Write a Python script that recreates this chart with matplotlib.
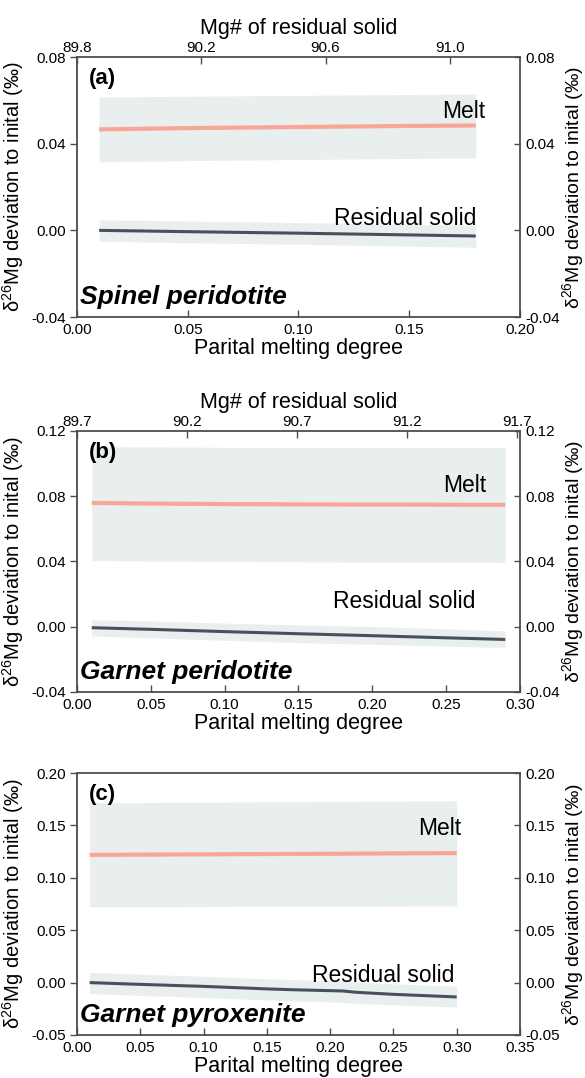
import matplotlib
matplotlib.use("Agg")
import matplotlib.pyplot as plt
import numpy as np

plt.rcParams['font.family'] = ['Liberation Sans', 'DejaVu Sans']
plt.rcParams['mathtext.fontset'] = 'custom'
plt.rcParams['mathtext.rm'] = 'Liberation Sans'
plt.rcParams['axes.unicode_minus'] = False

# (a) spinel peridotite
x_a = [0.01, 0.05, 0.10, 0.15, 0.18]
melt_a = [0.0466, 0.0472, 0.0477, 0.0482, 0.0484]
melt_lo_a = [0.0316, 0.0322, 0.0327, 0.0332, 0.0334]
melt_hi_a = [0.0615, 0.0619, 0.0623, 0.0627, 0.0629]
solid_a = [0.0000, -0.0006, -0.0013, -0.0021, -0.0026]
solid_lo_a = [-0.0050, -0.0057, -0.0064, -0.0073, -0.0078]
solid_hi_a = [0.0049, 0.0043, 0.0036, 0.0028, 0.0023]

# (b) garnet peridotite
x_b = [0.01, 0.05, 0.10, 0.15, 0.20, 0.25, 0.29]
melt_b = [0.0759, 0.0755, 0.0752, 0.0750, 0.0749, 0.0748, 0.0747]
melt_lo_b = [0.0406, 0.0403, 0.0400, 0.0398, 0.0396, 0.0395, 0.0394]
melt_hi_b = [0.1104, 0.1102, 0.1100, 0.1099, 0.1098, 0.1098, 0.1098]
solid_b = [-0.0006, -0.0016, -0.0030, -0.0043, -0.0055, -0.0068, -0.0078]
solid_lo_b = [-0.0057, -0.0068, -0.0083, -0.0097, -0.0108, -0.0119, -0.0127]
solid_hi_b = [0.0043, 0.0035, 0.0022, 0.0011, 0.0001, -0.0013, -0.0025]

# (c) garnet pyroxenite
x_c = [0.01, 0.05, 0.10, 0.15, 0.17, 0.21, 0.22, 0.25, 0.30]
melt_c = [0.1219, 0.1221, 0.1224, 0.1227, 0.1228, 0.1230, 0.1231, 0.1233, 0.1236]
melt_lo_c = [0.0724, 0.0725, 0.0726, 0.0728, 0.0728, 0.0729, 0.0730, 0.0731, 0.0732]
melt_hi_c = [0.1716, 0.1718, 0.1721, 0.1725, 0.1726, 0.1729, 0.1730, 0.1732, 0.1736]
solid_c = [0.0000, -0.0017, -0.0036, -0.0060, -0.0068, -0.0080, -0.0092, -0.0112, -0.0137]
solid_lo_c = [-0.0105, -0.0122, -0.0142, -0.0165, -0.0174, -0.0188, -0.0198, -0.0212, -0.0233]
solid_hi_c = [0.0098, 0.0080, 0.0060, 0.0036, 0.0028, 0.0016, 0.0004, -0.0012, -0.0035]

panel_tags = ['(a)', '(b)', '(c)']
rock_names = ['Spinel peridotite', 'Garnet peridotite', 'Garnet pyroxenite']
x_ticks = [np.arange(0, 0.201, 0.05), np.arange(0, 0.301, 0.05), np.arange(0, 0.351, 0.05)]
y_ticks = [[-0.04, 0.00, 0.04, 0.08], [-0.04, 0.00, 0.04, 0.08, 0.12],
           [-0.05, 0.00, 0.05, 0.10, 0.15, 0.20]]
mg_ticks = [[89.8, 90.2, 90.6, 91.0], [89.7, 90.2, 90.7, 91.2, 91.7], None]
mg_lims = [(89.8, 91.226), (89.7, 91.714), None]
# label anchor points (x, y) in data units
melt_label_pos = [(0.1845, 0.052), (0.277, 0.0826), (0.3034, 0.1407)]
solid_label_pos = [(0.1805, 0.0025), (0.270, 0.0114), (0.298, 0.0002)]

data = [
    (x_a, melt_a, melt_lo_a, melt_hi_a, solid_a, solid_lo_a, solid_hi_a),
    (x_b, melt_b, melt_lo_b, melt_hi_b, solid_b, solid_lo_b, solid_hi_b),
    (x_c, melt_c, melt_lo_c, melt_hi_c, solid_c, solid_lo_c, solid_hi_c),
]

band_color = '#e9eeee'
melt_color = '#f8a797'
solid_color = '#4a4f60'
spine_color = '#4d4d4d'
ylab = r'δ$^{26}$Mg deviation to inital (‰)'

fig = plt.figure(figsize=(5.85, 10.78), dpi=100)
# left, bottom, width, height
rects = [[0.1316, 0.7059, 0.7573, 0.2412],
         [0.1316, 0.3581, 0.7573, 0.2421],
         [0.1316, 0.0399, 0.7573, 0.2430]]

for i in range(3):
    x, m, mlo, mhi, s, slo, shi = data[i]
    ax = fig.add_axes(rects[i])
    ax.fill_between(x, mlo, mhi, color=band_color, lw=0)
    ax.fill_between(x, slo, shi, color=band_color, lw=0)
    ax.plot(x, m, color=melt_color, lw=3, solid_capstyle='butt')
    ax.plot(x, s, color=solid_color, lw=2.2, solid_capstyle='butt')

    ax.set_xlim(x_ticks[i][0], x_ticks[i][-1])
    ax.set_ylim(y_ticks[i][0], y_ticks[i][-1])
    ax.set_xticks(x_ticks[i])
    ax.set_xticklabels(['%.2f' % v for v in x_ticks[i]])
    ax.set_yticks(y_ticks[i])
    ax.set_yticklabels(['%.2f' % v for v in y_ticks[i]])
    ax.tick_params(axis='x', direction='in', length=5, width=1, pad=4,
                   labelsize=11, color=spine_color, top=False)
    ax.tick_params(axis='y', direction='out', length=5, width=1, pad=3,
                   labelsize=11, color=spine_color, right=False)
    for sp in ax.spines.values():
        sp.set_color(spine_color)
        sp.set_linewidth(1.3)
    ax.set_xlabel('Parital melting degree', fontsize=15.5, labelpad=1)
    ax.set_ylabel(ylab, fontsize=14.5, labelpad=4)

    # right-hand copy of the y axis
    axr = ax.twinx()
    axr.set_ylim(ax.get_ylim())
    axr.set_yticks(y_ticks[i])
    axr.set_yticklabels(['%.2f' % v for v in y_ticks[i]])
    axr.tick_params(axis='y', direction='in', length=4, width=1, pad=4,
                    labelsize=11, color=spine_color)
    for sp in axr.spines.values():
        sp.set_visible(False)
    axr.set_ylabel(ylab, fontsize=14, labelpad=0)

    # Mg# of the residue along the top
    if mg_ticks[i] is not None:
        axt = ax.twiny()
        axt.set_xlim(mg_lims[i])
        axt.set_xticks(mg_ticks[i])
        axt.set_xticklabels(['%.1f' % v for v in mg_ticks[i]])
        axt.tick_params(axis='x', direction='in', length=5, width=1, pad=1.5,
                        labelsize=11, color=spine_color)
        for sp in axt.spines.values():
            sp.set_visible(False)
        axt.set_xlabel('Mg# of residual solid', fontsize=15.5, labelpad=5)

    ax.text(0.027, 0.918, panel_tags[i], transform=ax.transAxes,
            fontsize=16, fontweight='bold', va='center', ha='left')
    ax.text(0.006, 0.05, rock_names[i], transform=ax.transAxes,
            fontsize=19, fontweight='bold', fontstyle='italic',
            va='baseline', ha='left')
    ax.text(melt_label_pos[i][0], melt_label_pos[i][1], 'Melt',
            fontsize=16.5, ha='right', va='baseline')
    ax.text(solid_label_pos[i][0], solid_label_pos[i][1], 'Residual solid',
            fontsize=16.5, ha='right', va='baseline')

fig.savefig('out.png', dpi=100)
